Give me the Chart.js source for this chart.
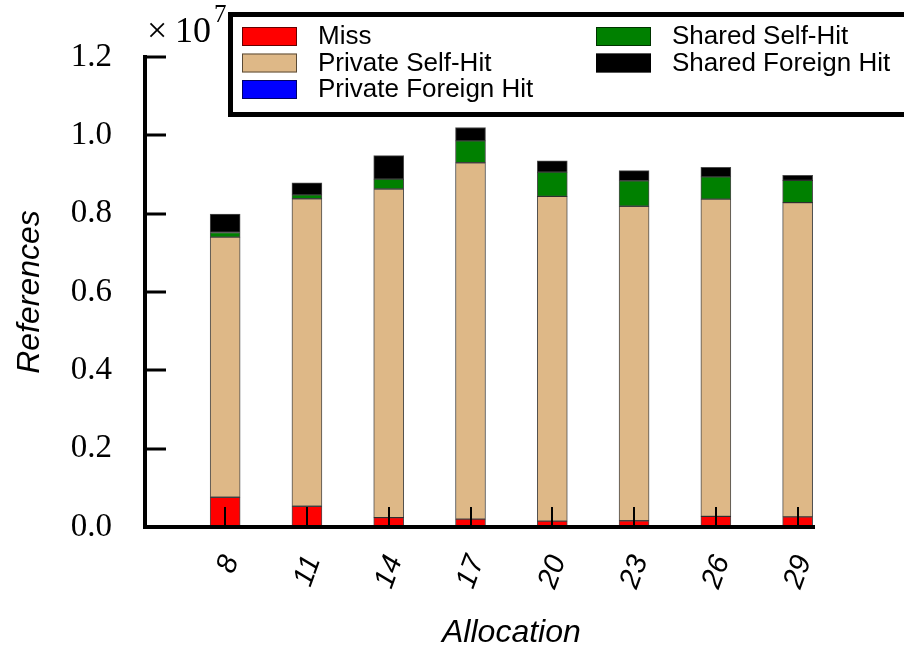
<!DOCTYPE html>
<html>
<head>
<meta charset="utf-8">
<script src="https://cdn.jsdelivr.net/npm/chart.js@4/dist/chart.umd.min.js"></script>
<style>
  html, body { margin: 0; padding: 0; background: #fff; }
  #wrap { width: 904px; height: 645px; }
</style>
</head>
<body>
<div id="wrap"><canvas id="c" width="904" height="645"></canvas></div>
<script>
// Cache allocation sizes and the reference breakdown for each one
const allocations = ['8', '11', '14', '17', '20', '23', '26', '29'];
const miss            = [760000, 530000, 240000, 200000, 150000, 160000, 270000, 260000];
const privateSelfHit  = [6640000, 7850000, 8390000, 9100000, 8290000, 8030000, 8100000, 8020000];
const privateForeign  = [0, 0, 0, 0, 0, 0, 0, 0];
const sharedSelfHit   = [120000, 100000, 250000, 560000, 620000, 650000, 570000, 570000];
const sharedForeign   = [470000, 310000, 600000, 340000, 290000, 260000, 240000, 130000];
const yTickValues     = [0, 2000000, 4000000, 6000000, 8000000, 10000000, 12000000];

const seriesNames  = ['Miss', 'Private Self-Hit', 'Private Foreign Hit', 'Shared Self-Hit', 'Shared Foreign Hit'];
const seriesValues = [miss, privateSelfHit, privateForeign, sharedSelfHit, sharedForeign];
const seriesColors = ['#ff0000', '#deb887', '#0000ff', '#008000', '#000000'];

const datasets = seriesNames.map((name, k) => ({
  label: name,
  data: seriesValues[k].map((v, i) => ({ x: i, y: v })),
  backgroundColor: seriesColors[k],
  borderColor: 'rgba(0,0,0,0.7)',
  borderWidth: 1,
  borderSkipped: false,
  barThickness: 30
}));

// Inward y tick marks, exponent marker, boxed legend and x-axis title
const overlay = {
  id: 'overlay',
  afterDraw(chart) {
    const ctx = chart.ctx;
    const xs = chart.scales.x;
    const ys = chart.scales.y;
    const axisX = chart.chartArea.left;
    ctx.save();

    // y tick marks pointing into the plot
    ctx.fillStyle = '#000000';
    for (const v of yTickValues) {
      const py = Math.round(ys.getPixelForValue(v));
      ctx.fillRect(axisX, py - 1.5, 21, 3);
    }

    // ×10^7 above the value axis
    ctx.textAlign = 'left';
    ctx.textBaseline = 'alphabetic';
    const bx = axisX + 2, by = 42;
    ctx.font = '36px "Liberation Serif"';
    ctx.fillText('\u00d7', bx, by);
    ctx.fillText('10', bx + 28, by);
    ctx.font = '25px "Liberation Serif"';
    ctx.fillText('7', bx + 67, by - 20);

    // legend frame
    ctx.fillStyle = '#fff';
    ctx.fillRect(230, 14, 700, 101);
    ctx.lineWidth = 5;
    ctx.strokeStyle = '#000';
    ctx.strokeRect(230.5, 14.5, 700, 100);

    // legend entries, three rows per column
    const colX = [242, 596];
    const rowY = [27, 53.5, 80];
    chart.data.datasets.forEach((ds, i) => {
      const x = colX[Math.floor(i / 3)];
      const y = rowY[i % 3];
      ctx.fillStyle = ds.backgroundColor;
      ctx.fillRect(x, y, 55, 19);
      ctx.lineWidth = 1;
      ctx.strokeStyle = 'rgba(0,0,0,0.6)';
      ctx.strokeRect(x + 0.5, y + 0.5, 54, 18);
      ctx.fillStyle = '#000';
      ctx.font = '26px "Liberation Sans"';
      ctx.textAlign = 'left';
      ctx.textBaseline = 'middle';
      ctx.fillText(ds.label, x + 76, y + 10);
    });

    // x-axis title, centred under the bars
    const cx = (xs.getPixelForValue(0) + xs.getPixelForValue(allocations.length - 1)) / 2;
    ctx.font = 'italic 32px "Liberation Sans"';
    ctx.textAlign = 'center';
    ctx.textBaseline = 'alphabetic';
    ctx.fillStyle = '#000';
    ctx.fillText('Allocation', cx, 642);
    ctx.restore();
  }
};

new Chart(document.getElementById('c'), {
  type: 'bar',
  data: { datasets },
  options: {
    responsive: false,
    animation: false,
    devicePixelRatio: 1,
    layout: { padding: { left: 0, top: 57, right: 90, bottom: 0 } },
    plugins: { legend: { display: false }, tooltip: { enabled: false } },
    scales: {
      x: {
        type: 'linear',
        stacked: true,
        offset: false,
        min: -0.98,
        max: 7.2,
        afterBuildTicks: (s) => { s.ticks = allocations.map((_, i) => ({ value: i })); },
        afterFit: (s) => { s.height = 118; },
        border: { display: true, color: '#000', width: 4, z: 2 },
        grid: { display: true, z: 1, offset: false, drawOnChartArea: false, drawTicks: true, tickLength: -20, color: '#000', lineWidth: 2 },
        ticks: {
          autoSkip: false,
          minRotation: 70,
          maxRotation: 70,
          padding: 44,
          labelOffset: 6,
          color: '#000',
          font: { family: 'Liberation Sans', size: 29, style: 'italic' },
          callback: (v) => allocations[v] ?? ''
        }
      },
      y: {
        stacked: true,
        min: 0,
        max: 12000000,
        afterBuildTicks: (s) => { s.ticks = yTickValues.map(v => ({ value: v })); },
        afterFit: (s) => { s.width = 145; },
        border: { display: true, color: '#000', width: 4, z: 2 },
        grid: { display: false },
        ticks: {
          padding: 25,
          color: '#000',
          font: { family: 'Liberation Serif', size: 33 },
          callback: (v) => (v / 10000000).toFixed(1)
        },
        title: {
          display: true,
          text: 'References',
          color: '#000',
          font: { family: 'Liberation Sans', size: 32, style: 'italic' },
          padding: { top: 11, bottom: 0 }
        }
      }
    }
  },
  plugins: [overlay]
});
</script>
</body>
</html>
